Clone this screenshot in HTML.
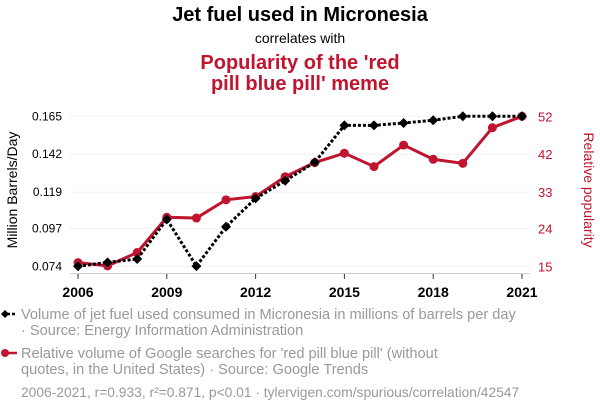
<!DOCTYPE html>
<html><head><meta charset="utf-8"><style>
body{margin:0;background:#fff;font-family:"Liberation Sans",sans-serif;}
svg text{font-family:"Liberation Sans",sans-serif;}
</style></head><body>
<svg width="600" height="414" viewBox="0 0 600 414">
<text x="300" y="21" text-anchor="middle" font-size="20" font-weight="bold" fill="#000">Jet fuel used in Micronesia</text>
<text x="300" y="43" text-anchor="middle" font-size="14" fill="#000">correlates with</text>
<text x="300" y="69" text-anchor="middle" font-size="20" font-weight="bold" fill="#c0142f">Popularity of the 'red</text>
<text x="300" y="90" text-anchor="middle" font-size="20" font-weight="bold" fill="#c0142f">pill blue pill' meme</text>
<g id="grid"></g>
<line x1="70" x2="530" y1="273.5" y2="273.5" stroke="#ccc"/>
<g id="axes"></g>
<text transform="translate(17,190) rotate(-90)" text-anchor="middle" font-size="14" fill="#000">Million Barrels/Day</text>
<text transform="translate(584,190) rotate(90)" text-anchor="middle" font-size="14" fill="#c0142f">Relative popularity</text>
<g id="series"></g>
<g>
<line x1="2" x2="17" y1="314" y2="314" stroke="#000" stroke-width="2.5" stroke-dasharray="3,2"/>
<path d="M5 310 L9 314 L5 318 L1 314Z" fill="#000"/>
<text x="21" y="319" font-size="14.6" fill="#999">Volume of jet fuel used consumed in Micronesia in millions of barrels per day</text>
<text x="21" y="335" font-size="14.6" fill="#999">· Source: Energy Information Administration</text>
</g>
<g>
<line x1="2" x2="17" y1="353" y2="353" stroke="#c0142f" stroke-width="2.5"/>
<circle cx="5" cy="353" r="4" fill="#c0142f"/>
<text x="21" y="358" font-size="14.6" fill="#999">Relative volume of Google searches for 'red pill blue pill' (without</text>
<text x="21" y="374" font-size="14.6" fill="#999">quotes, in the United States) · Source: Google Trends</text>
</g>
<text x="21" y="397" font-size="13.8" fill="#999">2006-2021, r=0.933, r²=0.871, p&lt;0.01 · tylervigen.com/spurious/correlation/42547</text>
</svg>
<script>
const years=[2006,2007,2008,2009,2010,2011,2012,2013,2014,2015,2016,2017,2018,2019,2020,2021];
const jetFuel=[0.074,0.0764,0.0784,0.1025,0.0741,0.098,0.1152,0.1259,0.1371,0.1595,0.1595,0.1609,0.1626,0.165,0.165,0.165];
const redPill=[15.9,15.1,18.4,27.1,26.9,31.4,32.2,37.1,40.6,42.9,39.6,44.9,41.4,40.4,49.2,52];
const leftTicks=["0.165","0.142","0.119","0.097","0.074"];
const rightTicks=["52","42","33","24","15"];
const xTicks=[2006,2009,2012,2015,2018,2021];
const NS="http://www.w3.org/2000/svg";
function xS(y){return 78+(y-2006)*(522-78)/15;}
function yL(v){return 266.3-(v-0.074)*(150/(0.165-0.074));}
function yR(v){return 266.3-(v-15)*(150/37);}
function mk(t,a,p){const e=document.createElementNS(NS,t);for(const k in a)e.setAttribute(k,a[k]);p.appendChild(e);return e;}
const grid=document.getElementById('grid'),axes=document.getElementById('axes'),ser=document.getElementById('series');
leftTicks.forEach((t,i)=>{
  const y=yL(parseFloat(t));
  const g=mk('line',{x1:70,x2:530,y1:y,y2:y,stroke:'#f0f0f0'},grid);
  
  
  const l=mk('text',{x:62,y:y+4,'text-anchor':'end','font-size':12,fill:'#000'},axes);
  l.textContent=t;
  
  
  const r=mk('text',{x:538,y:y+5,'font-size':13,fill:'#c0142f'},axes);
  r.textContent=rightTicks[i];
  
  
});
xTicks.forEach(yr=>{
  const x=xS(yr);
  const tk=mk('line',{x1:x,x2:x,y1:274,y2:279,stroke:'#333'},axes);
  
  
  const t=mk('text',{x:x,y:297,'text-anchor':'middle','font-size':14,'font-weight':'bold',fill:'#000'},axes);
  t.textContent=yr;
  
  
});
const rp=mk('polyline',{points:years.map((y,i)=>xS(y)+','+yR(redPill[i])).join(' '),fill:'none',stroke:'#c0142f','stroke-width':3},ser);


years.forEach((y,i)=>{
  const c=mk('circle',{cx:xS(y),cy:yR(redPill[i]),r:4.5,fill:'#c0142f'},ser);
  
  
});
const jl=mk('polyline',{points:years.map((y,i)=>xS(y)+','+yL(jetFuel[i])).join(' '),fill:'none',stroke:'#000','stroke-width':3,'stroke-dasharray':'3,2'},ser);


years.forEach((y,i)=>{
  const x=xS(y),v=yL(jetFuel[i]);
  const d=mk('path',{d:`M${x} ${v-5} L${x+5} ${v} L${x} ${v+5} L${x-5} ${v}Z`,fill:'#000'},ser);
  
  
});
</script>
</body></html>
